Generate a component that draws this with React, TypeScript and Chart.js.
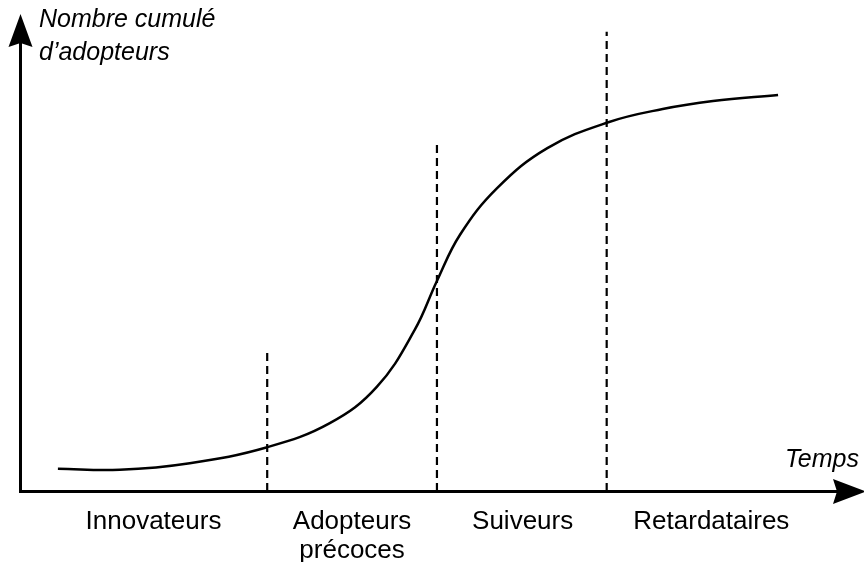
import React, { useEffect, useRef } from "react";
import { Chart, registerables } from "chart.js";

Chart.register(...registerables);

// Time (x) and cumulative adopters (y), in arbitrary 0–100 units
const curveTime = [4.6, 12.1, 20.6, 30.0, 37.6, 43.3, 47.9, 50.6, 53.4, 57.9, 64.0, 71.4, 78.0, 84.1, 92.0];
const curveAdopters = [4.7, 4.5, 5.9, 9.3, 14.4, 22.1, 34.2, 44.6, 54.4, 64.3, 72.8, 78.3, 81.1, 82.8, 84.1];

const phaseBoundaries = [30.0, 50.6, 71.2];
const boundaryHeights = [29.3, 73.5, 97.5];

const phaseLabels = [["Innovateurs"], ["Adopteurs", "précoces"], ["Suiveurs"], ["Retardataires"]];
const phaseCenters = [16.2, 40.3, 61.0, 83.9];

const yTitle = ["Nombre cumulé", "d’adopteurs"];
const xTitle = "Temps";

const FONT = "'Liberation Sans', Arial, Helvetica, sans-serif";

const axesPlugin = {
  id: "arrowAxes",
  afterDraw(chart: any) {
    const { ctx, chartArea, width } = chart;
    const x0 = chartArea.left + 0.5;
    const y0 = chartArea.bottom + 0.5;
    ctx.save();
    ctx.fillStyle = "#000";
    ctx.strokeStyle = "#000";
    ctx.lineWidth = 3;
    ctx.lineCap = "butt";
    // vertical axis
    ctx.beginPath();
    ctx.moveTo(x0, y0 + 1.5);
    ctx.lineTo(x0, 40);
    ctx.stroke();
    // horizontal axis
    ctx.beginPath();
    ctx.moveTo(x0 - 1.5, y0);
    ctx.lineTo(width - 20, y0);
    ctx.stroke();
    // up arrow head
    const tipY = 14;
    ctx.beginPath();
    ctx.moveTo(x0, tipY);
    ctx.lineTo(x0 + 12, tipY + 33);
    ctx.lineTo(x0, tipY + 29);
    ctx.lineTo(x0 - 12, tipY + 33);
    ctx.closePath();
    ctx.fill();
    // right arrow head
    const tipX = width + 2;
    ctx.beginPath();
    ctx.moveTo(tipX, y0);
    ctx.lineTo(tipX - 33, y0 - 12.5);
    ctx.lineTo(tipX - 29, y0);
    ctx.lineTo(tipX - 33, y0 + 12.5);
    ctx.closePath();
    ctx.fill();

    // axis titles
    ctx.font = `italic 25px ${FONT}`;
    ctx.textBaseline = "alphabetic";
    ctx.textAlign = "left";
    ctx.fillText(yTitle[0], 39, 27);
    ctx.fillText(yTitle[1], 39, 60);
    ctx.textAlign = "right";
    ctx.fillText(xTitle, 859, 467);

    // phase labels
    const xs = chart.scales.x;
    ctx.font = `26px ${FONT}`;
    ctx.textAlign = "center";
    phaseLabels.forEach((lines, i) => {
      const cx = xs.getPixelForValue(phaseCenters[i]);
      lines.forEach((t, j) => {
        ctx.fillText(t, cx, chartArea.bottom + 38 + j * 29);
      });
    });
    ctx.restore();
  },
};

export default function App() {
  const ref = useRef<HTMLCanvasElement>(null);
  useEffect(() => {
    document.body.style.margin = "0";
    const curve = curveTime.map((t, i) => ({ x: t, y: curveAdopters[i] }));
    const dashed = phaseBoundaries.map((b, i) => ({
      data: [
        { x: b, y: 0 },
        { x: b, y: boundaryHeights[i] },
      ],
      borderColor: "#000",
      borderWidth: 2.2,
      borderDash: [8, 5],
      pointRadius: 0,
      fill: false,
    }));
    const chart = new Chart(ref.current!, {
      type: "line",
      data: {
        datasets: [
          {
            data: curve,
            borderColor: "#000",
            borderWidth: 2.5,
            pointRadius: 0,
            tension: 0.4,
            fill: false,
          },
          ...dashed,
        ] as any,
      },
      options: {
        responsive: false,
        animation: false,
        layout: { padding: { left: 20, top: 20, right: 20, bottom: 71 } },
        plugins: { legend: { display: false }, tooltip: { enabled: false } },
        scales: {
          x: { type: "linear", min: 0, max: 100, display: false },
          y: { type: "linear", min: 0, max: 100, display: false },
        },
      },
      plugins: [axesPlugin],
    });
    return () => chart.destroy();
  }, []);
  return (
    <div style={{ width: 864, height: 562, background: "#fff" }}>
      <canvas ref={ref} width={864} height={562} />
    </div>
  );
}
